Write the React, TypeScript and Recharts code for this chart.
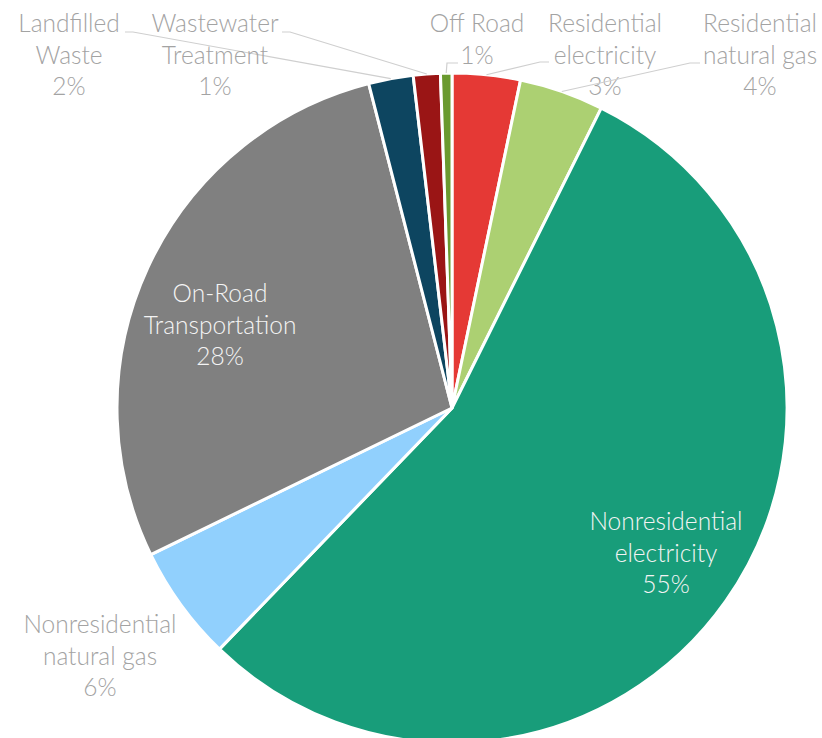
import React from 'react';
import { PieChart, Pie, Cell } from 'recharts';

const categories = [
  'Residential electricity',
  'Residential natural gas',
  'Nonresidential electricity',
  'Nonresidential natural gas',
  'On-Road Transportation',
  'Landfilled Waste',
  'Wastewater Treatment',
  'Off Road',
];
const shares = [3.28, 4.07, 54.86, 5.58, 28.21, 2.15, 1.3, 0.55];
const labelLines = [
  ['Residential', 'electricity'],
  ['Residential', 'natural gas'],
  ['Nonresidential', 'electricity'],
  ['Nonresidential', 'natural gas'],
  ['On-Road', 'Transportation'],
  ['Landfilled', 'Waste'],
  ['Wastewater', 'Treatment'],
  ['Off Road'],
];
const colors = ['#e53935', '#acd072', '#189d7a', '#91d0fd', '#808080', '#0d4560', '#9a1515', '#6a9a2f'];

const data = categories.map((name, i) => ({ name, value: shares[i] }));
const total = shares.reduce((a, b) => a + b, 0);

const OUT = '#a3a3a3';
const IN = '#f4f4f4';
const LEADER = '#cfcfcf';
const FONT = 'Lato, "Open Sans", sans-serif';
const FONT_SIZE = 24.5;
const LINE_H = 31.5;

type Layout = { x: number; y: number; color: string; elbow?: [number, number]; end?: [number, number] };
const labelLayout: Layout[] = [
  { x: 605, y: 32, color: OUT, elbow: [540, 62], end: [549, 62] },
  { x: 760, y: 32, color: OUT, elbow: [690, 63], end: [700, 63] },
  { x: 666, y: 530, color: IN },
  { x: 100, y: 633, color: OUT },
  { x: 220, y: 302, color: IN },
  { x: 69, y: 32, color: OUT, elbow: [133, 32], end: [125, 32] },
  { x: 215, y: 32, color: OUT, elbow: [290, 32], end: [282, 32] },
  { x: 477, y: 32, color: OUT, elbow: [447, 63], end: [458, 63] },
];

const RAD = Math.PI / 180;

const renderLabel = (props: any) => {
  const { cx, cy, midAngle, outerRadius, index } = props;
  const lay = labelLayout[index];
  const lines = [...labelLines[index], `${Math.round((shares[index] / total) * 100)}%`];
  let leader = null;
  if (lay.elbow && lay.end) {
    const ex = cx + outerRadius * Math.cos(-midAngle * RAD);
    const ey = cy + outerRadius * Math.sin(-midAngle * RAD);
    leader = (
      <polyline
        points={`${ex},${ey} ${lay.elbow[0]},${lay.elbow[1]} ${lay.end[0]},${lay.end[1]}`}
        fill="none"
        stroke={LEADER}
        strokeWidth={1.2}
      />
    );
  }
  return (
    <g key={`lbl-${index}`}>
      {leader}
      <text x={lay.x} y={lay.y} textAnchor="middle" fill={lay.color} fontFamily={FONT} fontSize={FONT_SIZE} fontWeight={300}>
        {lines.map((t, i) => (
          <tspan key={i} x={lay.x} y={lay.y + i * LINE_H}>
            {t}
          </tspan>
        ))}
      </text>
    </g>
  );
};

export default function App() {
  return (
    <div style={{ position: 'absolute', left: 0, top: 0, width: 822, height: 738, background: '#fff' }}>
      <PieChart width={822} height={738} margin={{ top: 0, right: 0, bottom: 0, left: 0 }}>
        <Pie
          data={data}
          dataKey="value"
          nameKey="name"
          cx={452}
          cy={408}
          outerRadius={335}
          startAngle={90}
          endAngle={-270}
          stroke="#ffffff"
          strokeWidth={3}
          label={renderLabel}
          labelLine={false}
          isAnimationActive={false}
        >
          {data.map((d, i) => (
            <Cell key={d.name} fill={colors[i]} />
          ))}
        </Pie>
      </PieChart>
    </div>
  );
}
